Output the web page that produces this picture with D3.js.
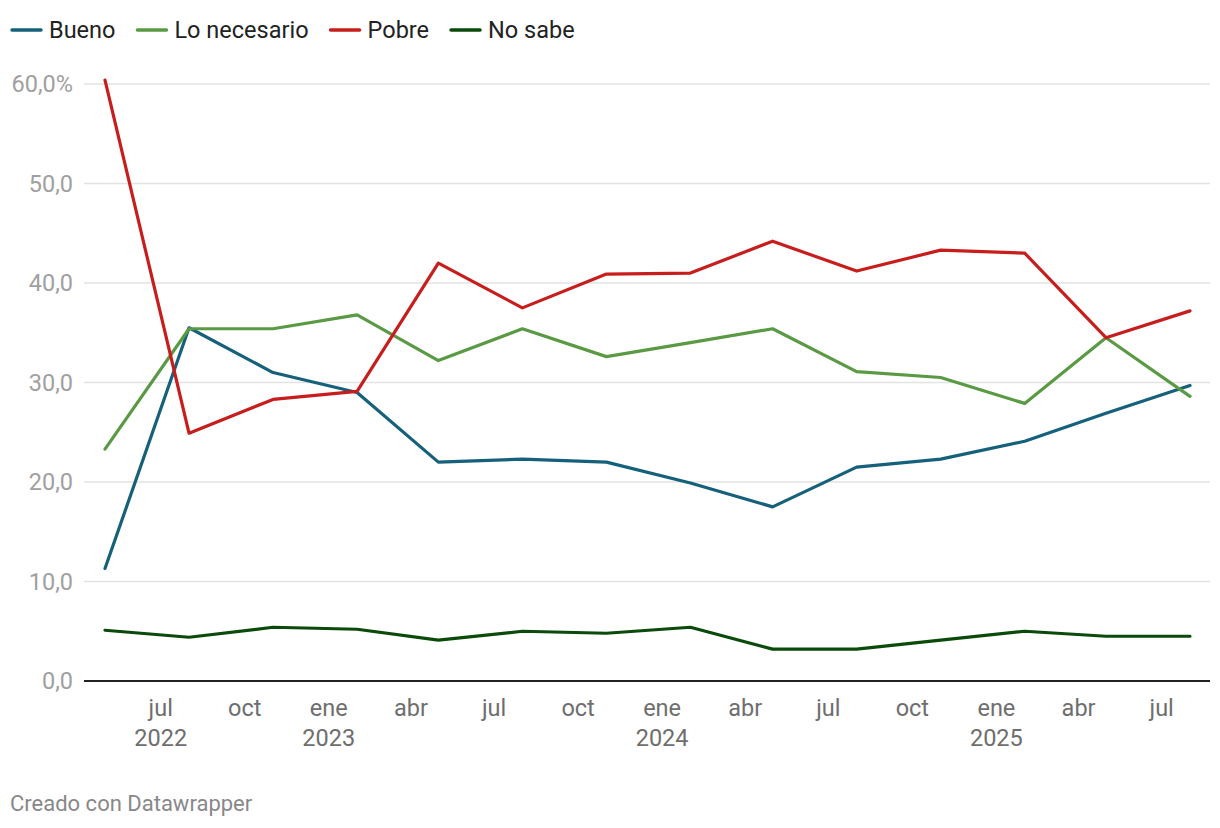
<!DOCTYPE html>
<html><head><meta charset="utf-8">
<script src="https://cdn.jsdelivr.net/npm/d3@7"></script>
<style>
body{margin:0;background:#fff;font-family:Roboto,sans-serif;}
</style></head><body>
<svg id="c" width="1220" height="828"></svg>
<script>
const dates = ["2022-05","2022-08","2022-11","2023-02","2023-05","2023-08","2023-11","2024-02","2024-05","2024-08","2024-11","2025-02","2025-05","2025-08"];
const bueno = [11.3,35.5,31.0,29.0,22.0,22.3,22.0,19.9,17.5,21.5,22.3,24.1,26.9,29.7];
const loNecesario = [23.3,35.4,35.4,36.8,32.2,35.4,32.6,34.0,35.4,31.1,30.5,27.9,34.5,28.6];
const pobre = [60.4,24.9,28.3,29.1,42.0,37.5,40.9,41.0,44.2,41.2,43.3,43.0,34.5,37.2];
const noSabe = [5.1,4.4,5.4,5.2,4.1,5.0,4.8,5.4,3.2,3.2,4.1,5.0,4.5,4.5];
const seriesNames = ["Bueno","Lo necesario","Pobre","No sabe"];
const seriesColors = ["#15607a","#5a9a45","#c71e1d","#0a4a0a"];
const yTicks = [0,10,20,30,40,50,60];
const xTickDates = ["2022-07","2022-10","2023-01","2023-04","2023-07","2023-10","2024-01","2024-04","2024-07","2024-10","2025-01","2025-04","2025-07"];
const monthNames = ["ene","feb","mar","abr","may","jun","jul","ago","sep","oct","nov","dic"];

const parse = d3.timeParse("%Y-%m");
const svg = d3.select("#c");
const x = d3.scaleTime().domain([parse(dates[0]), parse(dates[dates.length-1])]).range([105,1190]);
const y = d3.scaleLinear().domain([0,60]).range([681,84]);

// grid
svg.append("g").selectAll("line").data(yTicks.filter(t=>t>0)).join("line")
  .attr("x1",84).attr("x2",1210).attr("y1",d=>y(d)).attr("y2",d=>y(d))
  .attr("stroke","#e3e3e3").attr("stroke-width",1.5);
// y labels
svg.append("g").selectAll("text").data(yTicks).join("text")
  .attr("x",73).attr("y",d=>y(d)).attr("dy","0.35em").attr("text-anchor","end")
  .attr("fill","#a0a0a0").attr("font-size",23.5)
  .text(d=> d===60 ? "60,0%" : d3.format(".1f")(d).replace(".",","));
// baseline
svg.append("line").attr("x1",84).attr("x2",1210).attr("y1",y(0)).attr("y2",y(0))
  .attr("stroke","#222").attr("stroke-width",2);
// x labels
const xg = svg.append("g");
xTickDates.forEach(s=>{
  const d = parse(s);
  const t = xg.append("text").attr("x",x(d)).attr("y",716).attr("text-anchor","middle")
    .attr("fill","#6e6e6e").attr("font-size",23.5);
  t.append("tspan").attr("x",x(d)).text(monthNames[d.getMonth()]);
  if (d.getMonth()===0 || s===xTickDates[0]) t.append("tspan").attr("x",x(d)).attr("dy",30).text(d.getFullYear());
});
// lines
const allSeries = [bueno, loNecesario, pobre, noSabe];
const line = d3.line().x((d,i)=>x(parse(dates[i]))).y(d=>y(d));
allSeries.forEach((s,k)=>{
  svg.append("path").datum(s).attr("d",line).attr("fill","none")
    .attr("stroke",seriesColors[k]).attr("stroke-width",3.2)
    .attr("stroke-linejoin","round").attr("stroke-linecap","round");
});
// legend
let lx = 12;
const lg = svg.append("g");
seriesNames.forEach((n,k)=>{
  lg.append("line").attr("x1",lx).attr("x2",lx+29).attr("y1",30).attr("y2",30)
    .attr("stroke",seriesColors[k]).attr("stroke-width",3.5).attr("stroke-linecap","round");
  const t = lg.append("text").attr("x",lx+37).attr("y",30).attr("dy","0.35em")
    .attr("fill","#222").attr("font-size",23.5).text(n);
  lx += 37 + t.node().getComputedTextLength() + 22;
});
// footer
svg.append("text").attr("x",10).attr("y",811).attr("fill","#888").attr("font-size",22).text("Creado con Datawrapper");
</script></body></html>
